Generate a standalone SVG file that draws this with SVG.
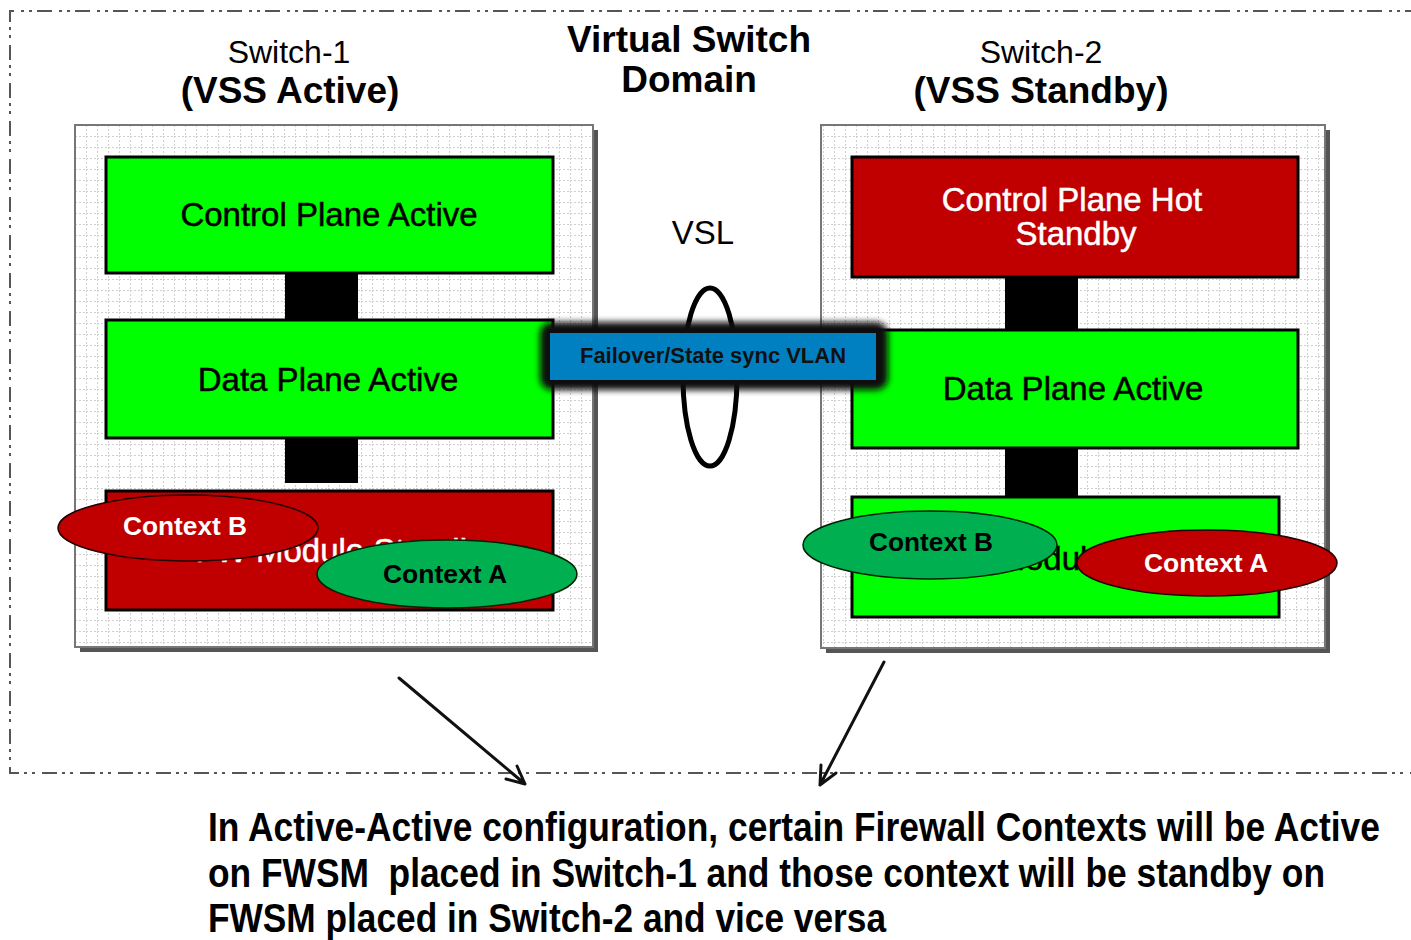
<svg xmlns="http://www.w3.org/2000/svg" width="1411" height="940" viewBox="0 0 1411 940">
<style>
.t{font-family:"Liberation Sans",Arial,sans-serif;text-anchor:middle}
.lbl{font-size:33px;fill:#000;stroke:#000;stroke-width:0.5}
.lblw{font-size:33px;fill:#fff;stroke:#fff;stroke-width:0.5}
.ctx{font-size:26px;font-weight:bold}
.blk{stroke:#000;stroke-width:3}
.green{fill:#00FF00}
.red{fill:#C00000}
.cgreen{fill:#00B050}
.panel{fill:url(#grid);stroke:#777;stroke-width:2}
.shadow{fill:#555}
.link{fill:#000}
.arrow{stroke:#111;stroke-width:3;fill:none;stroke-linecap:round;stroke-linejoin:round}
.bottom{font-family:"Liberation Sans",Arial,sans-serif;font-weight:bold;font-size:40px;fill:#000}
</style>
<defs>
<pattern id="grid" width="11" height="11" patternUnits="userSpaceOnUse" x="75" y="125">
<rect width="11" height="11" fill="#fff"/>
<path d="M0 0.5H11M0.5 0V11" stroke="#cfcfcf" stroke-width="1" stroke-dasharray="2 2"/>
</pattern>
<filter id="blur" x="-10%" y="-30%" width="120%" height="160%"><feGaussianBlur stdDeviation="3"/></filter>
</defs>
<rect width="1411" height="940" fill="#fff"/>
<g id="domain">
<path d="M1420 11H10V773H1420" fill="none" stroke="#555" stroke-width="2" stroke-dasharray="15 5 3 5 3 7"/>
<text class="t" x="689" y="52" font-size="37" font-weight="bold">Virtual Switch</text>
<text class="t" x="689" y="92" font-size="37" font-weight="bold">Domain</text>
</g>
<g id="switch1">
<text class="t" x="289" y="63" font-size="32">Switch-1</text>
<text class="t" x="290" y="103" font-size="37" font-weight="bold">(VSS Active)</text>
<rect class="shadow" x="80" y="130" width="518" height="522"/>
<rect class="panel" x="75" y="125" width="518" height="522"/>
</g>
<g id="switch2">
<text class="t" x="1041" y="63" font-size="32">Switch-2</text>
<text class="t" x="1041" y="103" font-size="37" font-weight="bold">(VSS Standby)</text>
<rect class="shadow" x="826" y="130" width="504" height="523"/>
<rect class="panel" x="821" y="125" width="504" height="523"/>
</g>
<g id="connectors">
<rect class="link" x="285" y="272" width="73" height="50"/>
<rect class="link" x="285" y="437" width="73" height="46"/>
<rect class="link" x="1005" y="276" width="73" height="56"/>
<rect class="link" x="1005" y="447" width="73" height="52"/>
<path class="arrow" d="M399 678L525 784M506 779L525 784L517 766"/>
<path class="arrow" d="M884 662L820 785M821 765L820 785L836 773"/>
</g>
<g id="s1-control">
<rect class="blk green" x="106" y="157" width="447" height="116"/>
<text class="t lbl" x="329" y="226">Control Plane Active</text>
</g>
<g id="s1-data">
<rect class="blk green" x="106" y="320" width="447" height="118"/>
<text class="t lbl" x="328" y="391">Data Plane Active</text>
</g>
<g id="s1-module">
<rect class="blk red" x="106" y="491" width="447" height="119"/>
<text class="t lblw" x="345" y="562">FW Module Standby</text>
</g>
<g id="s1-ctxB">
<ellipse cx="188" cy="528" rx="130" ry="33" class="red" stroke="#200" stroke-width="1.5"/>
<text class="t ctx" x="185" y="535" fill="#fff" textLength="124" lengthAdjust="spacingAndGlyphs">Context B</text>
</g>
<g id="s1-ctxA">
<ellipse cx="447" cy="574" rx="130" ry="34" class="cgreen" stroke="#020" stroke-width="1.5"/>
<text class="t ctx" x="445" y="583" fill="#000" textLength="124" lengthAdjust="spacingAndGlyphs">Context A</text>
</g>
<g id="s2-control">
<rect class="blk red" x="852" y="157" width="446" height="120"/>
<text class="t lblw" x="1072" y="211">Control Plane Hot</text>
<text class="t lblw" x="1076" y="245">Standby</text>
</g>
<g id="s2-data">
<rect class="blk green" x="852" y="330" width="446" height="118"/>
<text class="t lbl" x="1073" y="400">Data Plane Active</text>
</g>
<g id="s2-module">
<rect class="blk green" x="852" y="497" width="427" height="120"/>
<text class="t lbl" x="1070" y="570">FW Module Active</text>
</g>
<g id="s2-ctxB">
<ellipse cx="930" cy="545" rx="127" ry="34" class="cgreen" stroke="#020" stroke-width="1.5"/>
<text class="t ctx" x="931" y="551" fill="#000" textLength="124" lengthAdjust="spacingAndGlyphs">Context B</text>
</g>
<g id="s2-ctxA">
<ellipse cx="1207" cy="563" rx="130" ry="33" class="red" stroke="#200" stroke-width="1.5"/>
<text class="t ctx" x="1206" y="572" fill="#fff" textLength="124" lengthAdjust="spacingAndGlyphs">Context A</text>
</g>
<g id="vsl">
<text class="t" x="703" y="244" font-size="33">VSL</text>
<ellipse cx="710" cy="377" rx="27" ry="89" fill="none" stroke="#000" stroke-width="5"/>
</g>
<g id="vlan">
<rect x="540" y="322" width="348" height="68" rx="12" fill="#111" filter="url(#blur)"/>
<rect x="550" y="333" width="326" height="47" fill="#0080C0"/>
<text class="t" x="713" y="363" font-size="22" font-weight="bold" textLength="266" lengthAdjust="spacingAndGlyphs" fill="#111">Failover/State sync VLAN</text>
</g>
<g id="note">
<text class="bottom" x="208" y="841" textLength="1172" lengthAdjust="spacingAndGlyphs">In Active-Active configuration, certain Firewall Contexts will be Active</text>
<text class="bottom" x="208" y="887" textLength="1117" lengthAdjust="spacingAndGlyphs" xml:space="preserve">on FWSM  placed in Switch-1 and those context will be standby on</text>
<text class="bottom" x="208" y="932" textLength="678" lengthAdjust="spacingAndGlyphs">FWSM placed in Switch-2 and vice versa</text>
</g>
</svg>
